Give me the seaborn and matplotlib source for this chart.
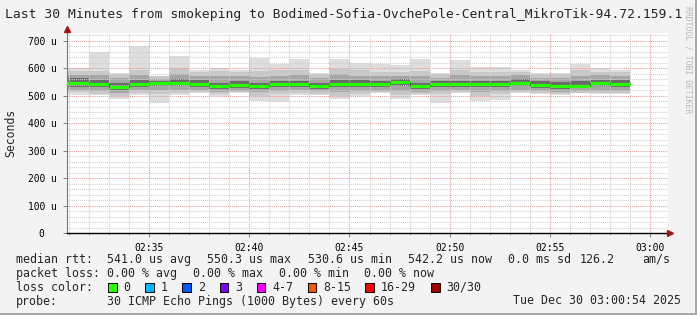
import matplotlib
matplotlib.use("Agg")
import matplotlib.pyplot as plt
import seaborn as sns
import pandas as pd
from matplotlib.patches import Rectangle

W, H = 697, 315

# ---- data (minutes after 02:00, each sample covers one minute) ----
minute = list(range(30, 59))          # first column only partly visible
ping_med = [547, 547, 544, 531, 543, 547, 546, 543, 535, 540, 534, 544, 543, 535, 543,
            544, 541, 550, 535, 541, 543, 541, 543, 547, 540, 537, 537, 546, 542]
ping_max = [602, 602, 660, 584, 682, 573, 644, 594, 600, 594, 638, 615, 634, 584, 634,
            620, 615, 611, 634, 584, 629, 606, 606, 594, 584, 584, 615, 600, 594]
ping_p90 = [590, 590, 590, 578, 592, 570, 600, 585, 590, 585, 590, 592, 595, 578, 598,
            592, 585, 588, 590, 578, 595, 585, 585, 588, 578, 578, 592, 588, 585]
ping_p75 = [575, 575, 575, 565, 575, 562, 580, 572, 572, 570, 568, 572, 575, 565, 578,
            572, 570, 572, 570, 566, 575, 570, 570, 575, 566, 565, 572, 574, 572]
ping_p60 = [563, 563, 558, 548, 558, 555, 560, 556, 548, 552, 548, 555, 555, 548, 556,
            556, 552, 560, 548, 553, 555, 553, 555, 560, 552, 550, 552, 558, 556]
ping_p40 = [531, 531, 532, 522, 532, 535, 535, 533, 525, 528, 525, 532, 532, 526, 530,
            532, 530, 535, 525, 530, 532, 530, 532, 535, 528, 526, 527, 534, 532]
ping_p25 = [520, 520, 518, 510, 520, 522, 520, 520, 514, 518, 512, 518, 520, 516, 515,
            516, 518, 518, 515, 518, 520, 515, 518, 520, 516, 515, 516, 518, 518]
ping_p10 = [512, 512, 508, 500, 510, 505, 510, 512, 505, 512, 500, 505, 510, 508, 500,
            505, 512, 503, 506, 505, 512, 500, 508, 512, 509, 506, 511, 510, 510]
ping_min = [502, 502, 503, 488, 503, 475, 503, 509, 499, 509, 481, 478, 503, 503, 488,
            500, 510, 488, 503, 475, 509, 482, 485, 509, 506, 503, 509, 506, 506]

x_ticks = [35, 40, 45, 50, 55, 60]
x_labels = ["02:35", "02:40", "02:45", "02:50", "02:55", "03:00"]
y_ticks = [0, 100, 200, 300, 400, 500, 600, 700]
y_labels = ["0  ", "100 u", "200 u", "300 u", "400 u", "500 u", "600 u", "700 u"]

title = "Last 30 Minutes from smokeping to Bodimed-Sofia-OvchePole-Central_MikroTik-94.72.159.1"
rtt_items = ["median rtt:", "541.0 us avg", "550.3 us max", "530.6 us min",
             "542.2 us now", "0.0 ms sd", "126.2", "am/s"]
loss_items = ["packet loss:", "0.00 % avg", "0.00 % max", "0.00 % min", "0.00 % now"]
loss_labels = ["0", "1", "2", "3", "4-7", "8-15", "16-29", "30/30"]
loss_colors = ["#26ff00", "#00b8ff", "#0059ff", "#7e00ff", "#ff00ff", "#ff5500", "#ff0000", "#a10000"]
probe_text = "30 ICMP Echo Pings (1000 Bytes) every 60s"
stamp_text = "Tue Dec 30 03:00:54 2025"

# ---- style ----
sns.set_style("white")
plt.rcParams["font.family"] = ["DejaVu Sans Mono"]
BG = "#f3f3f3"

fig = plt.figure(figsize=(W / 100, H / 100), dpi=100, facecolor=BG)
ax = fig.add_axes([67 / W, (H - 233.3) / H, 601 / W, 200.3 / H])
ax.set_facecolor("white")
ax.set_axisbelow("line")

edges = minute + [minute[-1] + 1]
def ext(v):
    return v + [v[-1]]

layers = [(ping_min, ping_max, "#dedede"),
          (ping_p10, ping_p90, "#c8c8c8"),
          (ping_p25, ping_p75, "#a6a6a6"),
          (ping_p40, ping_p60, "#6a6a6a")]
for lo, hi, c in layers:
    ax.fill_between(edges, ext(lo), ext(hi), step="post", color=c, lw=0, zorder=1)

df = pd.DataFrame({"t": edges, "med": ext(ping_med)})
sns.lineplot(data=df, x="t", y="med", drawstyle="steps-post", color="#202020",
             lw=0.8, ax=ax, zorder=3, legend=False)
ax.hlines(ping_med, minute, [m + 1 for m in minute], color="#26ff00", lw=2.3, zorder=4)

ax.set_xlim(30.9, 60.9)
ax.set_ylim(0, 728)
ax.set_xticks(x_ticks)
ax.set_xticklabels(x_labels)
ax.set_xticks(list(range(31, 61)), minor=True)
ax.set_yticks(y_ticks)
ax.set_yticklabels(y_labels)
ax.set_yticks(list(range(0, 728, 20)), minor=True)
ax.set_xlabel("")
ax.set_ylabel("")

ax.grid(which="minor", color="#cfcfcf", lw=0.75, ls=(0, (1, 1)))
ax.grid(which="major", color="#e39a9a", lw=0.75, ls=(0, (1, 1)))

ax.tick_params(axis="x", which="major", length=3, width=0.7, color="#808080",
               pad=4, labelsize=7, labelcolor="black", bottom=True)
ax.tick_params(axis="x", which="minor", length=1.5, width=0.7, color="#a0a0a0", bottom=True)
ax.tick_params(axis="y", which="major", length=3, width=0.7, color="#808080",
               pad=4.5, labelsize=6.9, labelcolor="black", left=True)
ax.tick_params(axis="y", which="minor", length=0, left=False)

for s in ["top", "right"]:
    ax.spines[s].set_visible(False)
ax.spines["left"].set_color("#7a7a7a")
ax.spines["left"].set_linewidth(0.8)
ax.spines["bottom"].set_color("black")
ax.spines["bottom"].set_linewidth(1.0)
ax.spines["left"].set_bounds(0, 728 + 8)

ax.plot([0], [1.022], marker="^", ms=5, color="#a01515", transform=ax.transAxes,
        clip_on=False, zorder=6)
ax.plot([1.004], [0], marker=">", ms=5, color="#a01515", transform=ax.transAxes,
        clip_on=False, zorder=6)

def ftxt(x, y, s, **kw):
    fig.text(x / W, 1 - y / H, s, **kw)

ftxt(5, 18, title, fontsize=9.35, ha="left", va="baseline")
ftxt(11, 132.5, "Seconds", fontsize=8.3, rotation=90, ha="center", va="center")
ftxt(688, 60, "RRDTOOL / TOBI OETIKER", fontsize=5.9, rotation=270,
     ha="center", va="center", color="#b8b8b8")

LF = 8.4
rtt_x = [15.6, 106.7, 207, 307.6, 407.6, 507.6, 580, 642]
for x, s in zip(rtt_x, rtt_items):
    ftxt(x, 262.7, s, fontsize=LF, ha="left", va="baseline")
loss_x = [15.6, 106.7, 193, 279, 364]
for x, s in zip(loss_x, loss_items):
    ftxt(x, 276.7, s, fontsize=LF, ha="left", va="baseline")
ftxt(15.6, 290.7, "loss color:", fontsize=LF, ha="left", va="baseline")
box_x = [108, 145.3, 182.2, 219.6, 256.9, 307.6, 365.3, 431.1]
for bx, lab, col in zip(box_x, loss_labels, loss_colors):
    fig.add_artist(Rectangle((bx / W, 1 - 292 / H), 8.5 / W, 9 / H,
                             transform=fig.transFigure, facecolor=col,
                             edgecolor="black", lw=0.7))
    ftxt(bx + 15.6, 290.7, lab, fontsize=LF, ha="left", va="baseline")
ftxt(15.6, 304.5, "probe:", fontsize=LF, ha="left", va="baseline")
ftxt(106.7, 304.5, probe_text, fontsize=LF, ha="left", va="baseline")
ftxt(681, 304.5, stamp_text, fontsize=LF, ha="right", va="baseline")

# frame edges
fig.add_artist(Rectangle((694.5 / W, 0), 2.5 / W, 1, transform=fig.transFigure,
                         facecolor="#a8a8a8", lw=0))
fig.add_artist(Rectangle((0, 0), 1, 2.5 / H, transform=fig.transFigure,
                         facecolor="#a8a8a8", lw=0))

fig.savefig("out.png", dpi=100, facecolor=BG)
